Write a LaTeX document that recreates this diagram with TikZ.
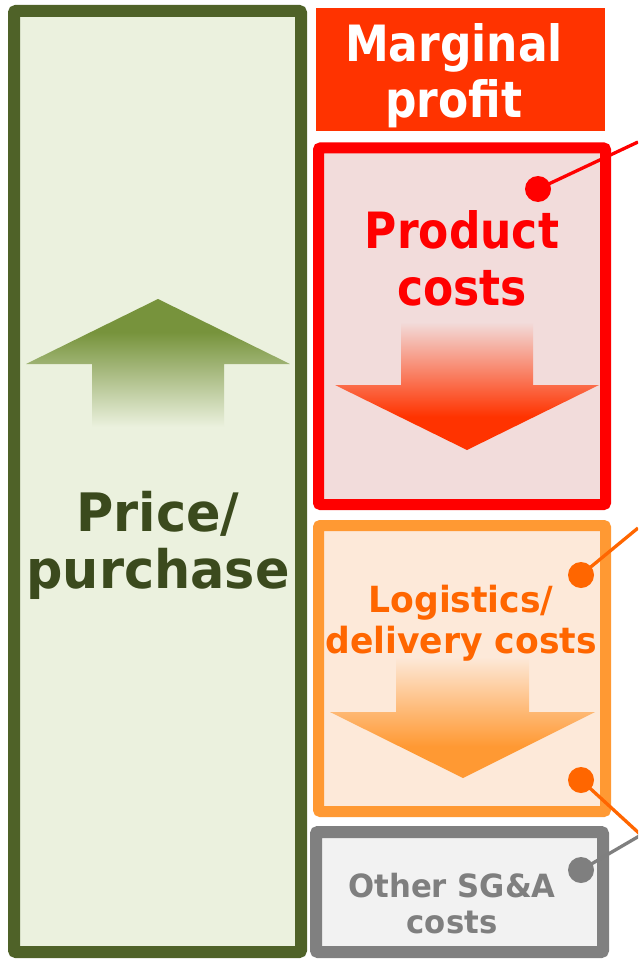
\documentclass[tikz,border=0pt]{standalone}
\usepackage{fontspec}
\setmainfont{DejaVu Sans}[FakeStretch=0.88]
\newfontfamily\widefont{DejaVu Sans}[FakeStretch=0.96]
\definecolor{oliveline}{HTML}{4F6228}
\definecolor{olivefill}{HTML}{EBF1DE}
\definecolor{olivearrow}{HTML}{77933C}
\definecolor{olivetext}{HTML}{3B4A1D}
\definecolor{marginred}{HTML}{FF3300}
\definecolor{productline}{HTML}{FF0000}
\definecolor{productfill}{HTML}{F2DCDB}
\definecolor{logiline}{HTML}{FF9933}
\definecolor{logifill}{HTML}{FDE9D9}
\definecolor{logitext}{HTML}{FF6600}
\definecolor{otherline}{HTML}{808080}
\definecolor{otherfill}{HTML}{F2F2F2}
\definecolor{othertext}{HTML}{7F7F7F}
\pgfdeclareverticalshading{upfade}{100bp}{color(0bp)=(olivefill); color(25bp)=(olivefill); color(62bp)=(olivearrow); color(100bp)=(olivearrow)}
\pgfdeclareverticalshading{productfade}{100bp}{color(0bp)=(marginred); color(38bp)=(marginred); color(75bp)=(productfill); color(100bp)=(productfill)}
\pgfdeclareverticalshading{logifade}{100bp}{color(0bp)=(logiline); color(38bp)=(logiline); color(75bp)=(logifill); color(100bp)=(logifill)}
\begin{document}
\begin{tikzpicture}
  [x=1pt, y=-1pt,
  costbox/.style={draw, rounded corners=2pt, inner sep=0pt, minimum width=287pt},
  dot/.style={circle, inner sep=0pt, minimum size=26pt},
  lead/.style={line width=3.3pt},
  boxtext/.style={align=center, inner sep=0pt}]
\useasboundingbox (0,0) rectangle (638,960);
\clip (0,0) rectangle (638,960);
\node[costbox, line width=12pt, draw=oliveline, fill=olivefill, minimum height=941pt] (price) at (157.5,481.5) {};
\node[fill=marginred, inner sep=0pt, minimum width=289pt, minimum height=123pt] (margin) at (460.5,69.5) {};
\node[costbox, line width=11pt, draw=productline, fill=productfill, minimum height=356.5pt] (product) at (462,326.25) {};
\node[costbox, line width=11pt, draw=logiline, fill=logifill, minimum height=286pt] (logistics) at (462,668.5) {};
\node[costbox, line width=12pt, draw=otherline, fill=otherfill, minimum height=120pt] (other) at (459.5,892) {};
\shade[shading=upfade] (158,299) -- (290,364) -- (224,364) -- (224,427) -- (92,427) -- (92,364) -- (26,364) -- cycle;
\shade[shading=productfade] (467,450) -- (599,385) -- (533,385) -- (533,322) -- (401,322) -- (401,385) -- (335,385) -- cycle;
\shade[shading=logifade] (463,778) -- (595,712) -- (529,712) -- (529,657) -- (396,657) -- (396,712) -- (330,712) -- cycle;
\node[boxtext, text=white, font=\bfseries\fontsize{50}{56}\selectfont] (margintext) at (454,76) {Marginal\\profit};
\node[boxtext, text=productline, font=\bfseries\fontsize{50}{57}\selectfont] (producttext) at (462,258) {Product\\costs};
\node[boxtext, text=olivetext, font=\widefont\bfseries\fontsize{53}{57}\selectfont] (pricetext) at (158,545) {Price/\\purchase};
\node[boxtext, text=logitext, font=\widefont\bfseries\fontsize{36}{41}\selectfont] (logitext) at (461,623) {Logistics/\\delivery costs};
\node[boxtext, text=othertext, font=\widefont\bfseries\fontsize{32}{36}\selectfont] (othertext) at (452,904) {Other SG\&A\\costs};
\node[dot, fill=productline] (pdot) at (538,189) {};
\node[dot, fill=logitext] (ldot) at (581,575) {};
\node[dot, fill=logitext] (ldotlow) at (581,780) {};
\node[dot, fill=othertext] (odot) at (581,870) {};
\coordinate (pend) at (638,142);
\coordinate (lend) at (638,528);
\coordinate (meet) at (641,835);
\draw[lead, productline] (pdot.center) -- (pend);
\draw[lead, logitext] (ldot.center) -- (lend);
\draw[lead, logitext] (ldotlow.center) -- (meet);
\draw[lead, othertext] (odot.center) -- (meet);
\end{tikzpicture}
\end{document}
